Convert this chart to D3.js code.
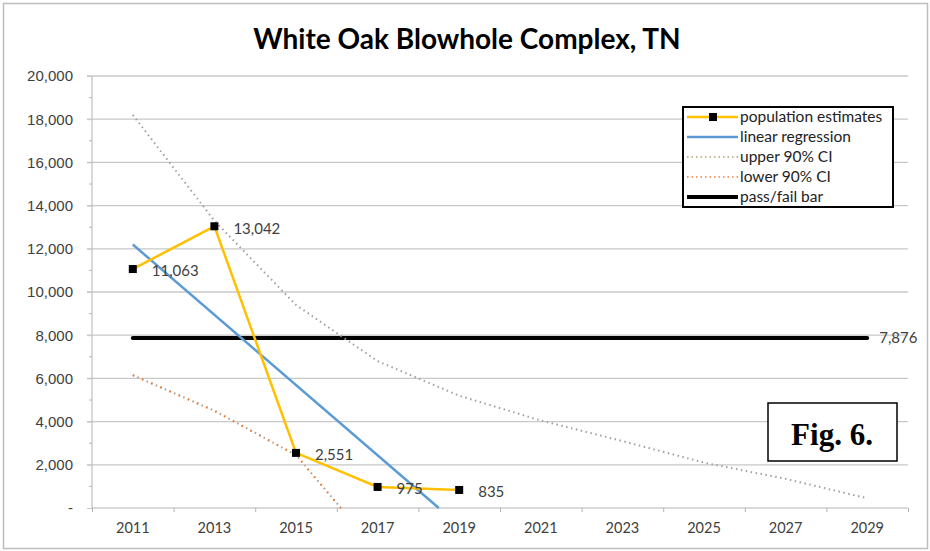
<!DOCTYPE html>
<meta charset="utf-8">
<style>
  body { margin: 0; background: #fff; }
  svg { display: block; font-family: Lato, "Open Sans", sans-serif; }
  .title { font-size: 28px; font-weight: 700; fill: #000; text-anchor: middle; }
  .grid line { stroke: #c8c8c8; stroke-width: 1.3px; }
  .axis text { font-size: 15px; fill: #404040; }
  .x-labels text { font-size: 14.5px; }
  .axis path, .axis line { stroke: #b4b4b4; }
  .data-label { font-size: 15px; fill: #404040; }
  .legend text { font-size: 15.5px; fill: #222; }
  .fig-label { font-family: "Liberation Serif", "DejaVu Serif", serif; font-size: 31px; font-weight: 700; text-anchor: middle; }
</style>
<body>
<div id="vis"></div>
<script src="https://d3js.org/d3.v7.min.js"></script>
<script>

const width = 930,
    height = 551;

// values
const years = [2011, 2013, 2015, 2017, 2019];
const estimates = [11063, 13042, 2551, 975, 835];
const regYears = [2011, 2018.5];
const regValues = [12198, 0];
const upperYears = [2011, 2013, 2015, 2017, 2019, 2021, 2023, 2025, 2027, 2029];
const upperValues = [18200, 13300, 9400, 6800, 5200, 4050, 3100, 2100, 1350, 450];
const lowerYears = [2011, 2013, 2015, 2016.1];
const lowerValues = [6150, 4500, 2450, 0];
const passYears = [2011, 2029];
const passValue = 7876;
const yTicks = [0, 2000, 4000, 6000, 8000, 10000, 12000, 14000, 16000, 18000, 20000];
const yMinorTicks = [1000, 3000, 5000, 7000, 9000, 11000, 13000, 15000, 17000, 19000];
const xLabels = [2011, 2013, 2015, 2017, 2019, 2021, 2023, 2025, 2027, 2029];
const xTicks = [2010, 2012, 2014, 2016, 2018, 2020, 2022, 2024, 2026, 2028, 2030];
const legendItems = ['population estimates', 'linear regression', 'upper 90% CI', 'lower 90% CI', 'pass/fail bar'];

const yellow = '#FFC000';
const blue = '#5B9BD5';
const gray = '#a0a0a0';
const orange = '#ED7D31';
const numFormat = d3.format(',');

let margin = {l: 92, r: 22, t: 76, b: 43};

let x = d3.scaleLinear().domain([2010, 2030]).range([margin.l, width - margin.r]);
let y = d3.scaleLinear().domain([0, 20000]).range([height - margin.b, margin.t]);

let svg = d3.select('#vis').append('svg')
    .attr('width', width)
    .attr('height', height);

// outer frame
svg.append('rect')
    .attr('x', 3.5).attr('y', 3.5)
    .attr('width', width - 6).attr('height', height - 6)
    .style('fill', '#fff')
    .style('stroke', '#bdbdbd')
    .style('stroke-width', 1.5);

svg.append('text')
    .attr('class', 'title')
    .attr('x', 467)
    .attr('y', 49)
    .text('White Oak Blowhole Complex, TN');

// gridlines
svg.append('g')
    .attr('class', 'grid')
    .selectAll('line')
    .data(yTicks.slice(1))
    .enter().append('line')
    .attr('x1', margin.l - 5)
    .attr('x2', x(2030))
    .attr('y1', d => y(d))
    .attr('y2', d => y(d));

// y axis
let yAxis = svg.append('g')
    .attr('class', 'axis y-axis')
    .attr('transform', 'translate(' + margin.l + ',0)')
    .call(d3.axisLeft(y).tickValues(yTicks).tickSize(5).tickPadding(14)
      .tickFormat(d => d === 0 ? '-' : numFormat(d)));
yAxis.select('.domain').attr('d', 'M0,' + y(20000) + 'V' + y(0));
yAxis.selectAll('.tick line').style('stroke', '#c8c8c8');
svg.append('g')
    .attr('class', 'axis')
    .selectAll('line')
    .data(yMinorTicks)
    .enter().append('line')
    .attr('x1', margin.l - 3)
    .attr('x2', margin.l)
    .attr('y1', d => y(d))
    .attr('y2', d => y(d));

// x axis: ticks on even years, labels on odd years
let xAxis = svg.append('g')
    .attr('class', 'axis x-axis')
    .attr('transform', 'translate(0,' + y(0) + ')')
    .call(d3.axisBottom(x).tickValues(xTicks).tickSize(4).tickFormat(''));
xAxis.select('.domain').attr('d', 'M' + x(2010) + ',0H' + x(2030));
svg.append('g')
    .attr('class', 'axis x-labels')
    .selectAll('text')
    .data(xLabels)
    .enter().append('text')
    .attr('x', d => x(d))
    .attr('y', y(0) + 25)
    .style('text-anchor', 'middle')
    .text(d => d);

const line = d3.line().x(d => x(d[0])).y(d => y(d[1]));

// pass/fail bar
svg.append('path')
    .attr('d', line(passYears.map(d => [d, passValue])))
    .style('fill', 'none')
    .style('stroke', '#000')
    .style('stroke-width', 4)
    .style('stroke-linecap', 'round');
svg.append('text')
    .attr('class', 'data-label')
    .attr('x', x(2029) + 12)
    .attr('y', y(passValue))
    .attr('dy', '0.35em')
    .text(numFormat(passValue));

// upper CI
svg.append('path')
    .attr('d', line(upperYears.map((d, i) => [d, upperValues[i]])))
    .style('fill', 'none')
    .style('stroke', gray)
    .style('stroke-width', 2)
    .style('stroke-dasharray', '1.5,3.5');

// lower CI
svg.append('path')
    .attr('d', line(lowerYears.map((d, i) => [d, lowerValues[i]])))
    .style('fill', 'none')
    .style('stroke', '#b49a88')
    .style('stroke-width', 2)
    .style('stroke-dasharray', '1.5,3.5');
svg.append('path')
    .attr('d', line(lowerYears.map((d, i) => [d, lowerValues[i]])))
    .style('fill', 'none')
    .style('stroke', orange)
    .style('stroke-width', 2)
    .style('stroke-dasharray', '1.5,8.5');

// regression
svg.append('path')
    .attr('d', line(regYears.map((d, i) => [d, regValues[i]])))
    .style('fill', 'none')
    .style('stroke', blue)
    .style('stroke-width', 2.5);

// population estimates
let pts = years.map((d, i) => [d, estimates[i]]);
svg.append('path')
    .attr('d', line(pts))
    .style('fill', 'none')
    .style('stroke', yellow)
    .style('stroke-width', 2.5);
svg.append('g')
    .selectAll('rect')
    .data(pts)
    .enter().append('rect')
    .attr('x', d => x(d[0]) - 4)
    .attr('y', d => y(d[1]) - 4)
    .attr('width', 8)
    .attr('height', 8)
    .style('fill', '#000');
svg.append('g')
    .selectAll('text')
    .data(pts)
    .enter().append('text')
    .attr('class', 'data-label')
    .attr('x', d => x(d[0]) + 19)
    .attr('y', d => y(d[1]) + 2)
    .attr('dy', '0.35em')
    .text(d => numFormat(d[1]));

// legend
let legend = svg.append('g')
    .attr('class', 'legend')
    .attr('transform', 'translate(683,107)');
legend.append('rect')
    .attr('width', 210)
    .attr('height', 100)
    .style('fill', '#fff')
    .style('stroke', '#000')
    .style('stroke-width', 2);
let item = legend.selectAll('.item')
    .data(legendItems)
    .enter().append('g')
    .attr('class', 'item')
    .attr('transform', (d, i) => 'translate(0,' + (10 + i * 20) + ')');
const styles = [
  {c: yellow, w: 2.5, dash: null},
  {c: blue, w: 2.5, dash: null},
  {c: '#c8b89a', w: 2, dash: '1.5,3'},
  {c: '#f0a070', w: 2, dash: '1.5,3'},
  {c: '#000', w: 4, dash: null}
];
item.append('line')
    .attr('x1', 4)
    .attr('x2', 55)
    .style('stroke', (d, i) => styles[i].c)
    .style('stroke-width', (d, i) => styles[i].w)
    .style('stroke-dasharray', (d, i) => styles[i].dash);
item.filter((d, i) => i === 0).append('rect')
    .attr('x', 26).attr('y', -4)
    .attr('width', 8).attr('height', 8)
    .style('fill', '#000');
item.append('text')
    .attr('x', 57)
    .attr('dy', '0.33em')
    .text(d => d);

// figure tag
svg.append('rect')
    .attr('x', 768).attr('y', 403)
    .attr('width', 129).attr('height', 58)
    .style('fill', '#fff')
    .style('stroke', '#000')
    .style('stroke-width', 1.5);
svg.append('text')
    .attr('class', 'fig-label')
    .attr('x', 832)
    .attr('y', 445)
    .text('Fig. 6.');

</script>
</body>
